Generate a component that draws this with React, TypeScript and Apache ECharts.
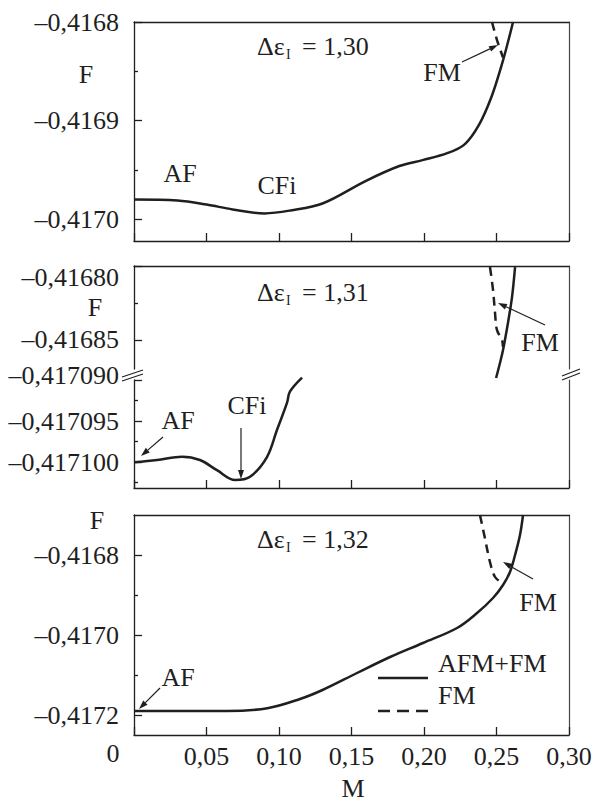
import React, { useEffect, useRef } from "react";
import * as echarts from "echarts";

// ---------- data ----------
const xMin = 0;
const xMax = 0.3;
const xStep = 0.05;

// Panel 1: Δε_I = 1,30
const p1SolidM = [0, 0.03, 0.05, 0.068, 0.09, 0.108, 0.13, 0.16, 0.183, 0.199, 0.216, 0.228, 0.238, 0.2465, 0.2535, 0.2585, 0.2614];
const p1SolidF = [-0.41698, -0.416981, -0.416985, -0.41699, -0.416994, -0.416991, -0.416984, -0.416961, -0.416946, -0.41694, -0.416933, -0.416924, -0.416904, -0.416876, -0.416844, -0.416817, -0.4168];
const p1DashM = [0.2469, 0.2503, 0.2545];
const p1DashF = [-0.4168, -0.416818, -0.416836];
const p1Major = [-0.4168, -0.4169, -0.417];
const p1Minor = [-0.41685, -0.41695];

// Panel 2 (upper part): Δε_I = 1,31
const p2uSolidM = [0.2497, 0.2524, 0.2545, 0.2579, 0.2607, 0.2628];
const p2uSolidF = [-0.4168757, -0.4168655, -0.4168568, -0.4168385, -0.416821, -0.4168007];
const p2uDashM = [0.2455, 0.2476, 0.249, 0.2503, 0.2538, 0.2545];
const p2uDashF = [-0.4168007, -0.4168162, -0.4168318, -0.4168432, -0.41685, -0.4168547];
const p2uMajor = [-0.4168, -0.41685];
const p2uMinor = [-0.416825];

// Panel 2 (lower part)
const p2lSolidM = [0, 0.0159, 0.0331, 0.0455, 0.0572, 0.0697, 0.08, 0.0917, 0.0986, 0.1055, 0.1076, 0.1159];
const p2lSolidF = [-0.41710004, -0.41709976, -0.41709935, -0.41709976, -0.417101, -0.4171022, -0.4171018, -0.4170994, -0.4170961, -0.4170928, -0.4170914, -0.4170897];
const p2lMajor = [-0.41709, -0.417095, -0.4171];
const p2lMinor = [-0.4170925, -0.4170975, -0.4171025];

// Panel 3: Δε_I = 1,32
const p3SolidM = [0, 0.03, 0.064, 0.092, 0.1145, 0.13, 0.1538, 0.1766, 0.1993, 0.2228, 0.2366, 0.2476, 0.2545, 0.2593, 0.2628, 0.2662, 0.2683];
const p3SolidF = [-0.41719, -0.41719, -0.41719, -0.417183, -0.41716, -0.4171375, -0.417095, -0.417055, -0.41702, -0.4169825, -0.416945, -0.4169075, -0.416875, -0.4168425, -0.4168, -0.41675, -0.4167];
const p3DashM = [0.2386, 0.242, 0.2455, 0.249, 0.2538];
const p3DashF = [-0.4167, -0.4167575, -0.4168175, -0.416855, -0.41687];
const p3Major = [-0.4168, -0.417, -0.4172];
const p3Minor = [-0.4169, -0.4171];

// ---------- layout ----------
const FONT = "'Liberation Serif', 'Times New Roman', serif";
const FS = 26;
const INK = "#1f1f1f";
const LEFT = 134;
const WIDTH = 435;

const grids = [
  { top: 22, height: 219, min: -0.417022, max: -0.4168, major: p1Major, minor: p1Minor, dec: 4, bottomTicks: true, topLine: true, labels: false, shift: {} as Record<string, number> },
  { top: 266, height: 103, min: -0.4168696, max: -0.4168, major: p2uMajor, minor: p2uMinor, dec: 5, bottomTicks: false, topLine: true, labels: false, shift: { "-0.41680": 11 } as Record<string, number> },
  { top: 380, height: 108, min: -0.41710317, max: -0.41709, major: p2lMajor, minor: p2lMinor, dec: 6, bottomTicks: true, topLine: false, labels: false, shift: { "-0.417090": -5 } as Record<string, number> },
  { top: 515, height: 220, min: -0.41725, max: -0.4167, major: p3Major, minor: p3Minor, dec: 4, bottomTicks: true, topLine: true, labels: true, shift: {} as Record<string, number> },
];

const fmtY = (v: number, d: number) => v.toFixed(d).replace("-", "\u2013").replace(".", ",");
const zip = (a: number[], b: number[]) => a.map((v, i) => [v, b[i]]);

function arrow(x1: number, y1: number, x2: number, y2: number) {
  const dx = x2 - x1, dy = y2 - y1;
  const L = Math.hypot(dx, dy);
  const ux = dx / L, uy = dy / L;
  const h = 9, w = 3;
  const bx = x2 - ux * h, by = y2 - uy * h;
  return [
    { type: "line", shape: { x1, y1, x2: bx, y2: by }, style: { stroke: INK, lineWidth: 1.2 } },
    { type: "polygon", shape: { points: [[x2, y2], [bx - uy * w, by + ux * w], [bx + uy * w, by - ux * w]] }, style: { fill: INK } },
  ];
}

function txt(text: string, x: number, y: number, align = "center", size = FS) {
  return { type: "text", x, y, style: { text, fontFamily: FONT, fontSize: size, fill: INK, align, verticalAlign: "middle" } };
}

function delta(val: string, y: number) {
  return [txt("\u0394\u03b5", 257, y, "left"), txt("I", 286, y + 8, "left", 14), txt("= " + val, 302, y, "left")];
}

export default function App() {
  const ref = useRef<HTMLDivElement>(null);
  useEffect(() => {
    if (!ref.current) return;
    const chart = echarts.init(ref.current, null, { renderer: "svg" });

    const gridOpt: any[] = [];
    const xAxes: any[] = [];
    const yAxes: any[] = [];
    const mainX: number[] = [];
    const mainY: number[] = [];
    const richBase = { fontFamily: FONT, fontSize: FS, color: INK };

    grids.forEach((g, gi) => {
      gridOpt.push({ left: LEFT, top: g.top, width: WIDTH, height: g.height, containLabel: false });
      mainX.push(xAxes.length);
      xAxes.push({
        type: "value", gridIndex: gi, min: xMin, max: xMax, interval: xStep, position: "bottom",
        axisLine: { show: g.bottomTicks, lineStyle: { color: INK, width: 1.3 } },
        axisTick: { show: g.bottomTicks, inside: true, length: 8, lineStyle: { color: INK, width: 1.3 } },
        axisLabel: {
          show: g.labels, margin: 8, fontFamily: FONT, fontSize: FS, color: INK,
          formatter: (v: number) => (v === 0 ? "" : v.toFixed(2).replace(".", ",")),
        },
        splitLine: { show: false },
      });
      if (g.topLine) {
        xAxes.push({
          type: "value", gridIndex: gi, min: xMin, max: xMax, position: "top",
          axisLine: { show: true, lineStyle: { color: INK, width: 1.3 } },
          axisTick: { show: false }, axisLabel: { show: false }, splitLine: { show: false },
        });
      }
      mainY.push(yAxes.length);
      yAxes.push({
        type: "value", gridIndex: gi, min: g.min, max: g.max, position: "left",
        axisLine: { show: true, lineStyle: { color: INK, width: 1.3 } },
        axisTick: { show: true, inside: true, length: 8, customValues: g.major, lineStyle: { color: INK, width: 1.3 } },
        axisLabel: {
          show: true, customValues: g.major, margin: 15, fontFamily: FONT, fontSize: FS, color: INK,
          formatter: (v: number) => {
            const key = v.toFixed(g.dec);
            const s = fmtY(v, g.dec);
            const sh = g.shift[key];
            if (sh === undefined) return s;
            return sh > 0 ? "{dn|" + s + "}" : "{up|" + s + "}";
          },
          rich: {
            dn: { ...richBase, padding: [22, 0, 0, 0] },
            up: { ...richBase, padding: [0, 0, 10, 0] },
          },
        },
        splitLine: { show: false },
      });
      yAxes.push({
        type: "value", gridIndex: gi, min: g.min, max: g.max, position: "left",
        axisLine: { show: false },
        axisTick: { show: true, inside: true, length: 4, customValues: g.minor, lineStyle: { color: INK, width: 1.3 } },
        axisLabel: { show: false }, splitLine: { show: false },
      });
      yAxes.push({
        type: "value", gridIndex: gi, min: g.min, max: g.max, position: "right",
        axisLine: { show: true, lineStyle: { color: "#444", width: 1.2 } },
        axisTick: { show: false }, axisLabel: { show: false }, splitLine: { show: false },
      });
    });

    const line = (gi: number, data: number[][], dashed: boolean) => ({
      type: "line", xAxisIndex: mainX[gi], yAxisIndex: mainY[gi], data, smooth: 0.35,
      showSymbol: false, clip: false, silent: true,
      lineStyle: { color: INK, width: 2.5, type: dashed ? [9, 6] : "solid" },
    });

    const series = [
      line(0, zip(p1SolidM, p1SolidF), false),
      line(0, zip(p1DashM, p1DashF), true),
      line(1, zip(p2uSolidM, p2uSolidF), false),
      line(1, zip(p2uDashM, p2uDashF), true),
      line(2, zip(p2lSolidM, p2lSolidF), false),
      line(3, zip(p3SolidM, p3SolidF), false),
      line(3, zip(p3DashM, p3DashF), true),
    ];

    const breakLine = (x1: number, y1: number, x2: number, y2: number) => ({
      type: "line", shape: { x1, y1, x2, y2 }, style: { stroke: INK, lineWidth: 1.2 },
    });

    const graphic: any[] = [
      // panel 1
      txt("F", 86, 74), txt("AF", 180, 173), txt("CFi", 277, 185), txt("FM", 442, 72),
      ...delta("1,30", 46),
      ...arrow(462, 62, 498, 45),
      // panel 2
      txt("F", 95, 307), txt("AF", 178, 420), txt("CFi", 247, 405), txt("FM", 540, 342),
      ...delta("1,31", 292),
      ...arrow(545, 325, 498, 303),
      ...arrow(163, 437, 141, 456),
      ...arrow(241, 428, 241, 479),
      breakLine(122, 377, 143, 370), breakLine(122, 381, 143, 374),
      breakLine(562, 376, 580, 369), breakLine(562, 380, 580, 373),
      // panel 3
      txt("F", 97, 520), txt("AF", 178, 677), txt("FM", 538, 602),
      ...delta("1,32", 539),
      ...arrow(160, 688, 139, 709),
      ...arrow(533, 579, 503, 562),
      txt("AFM+FM", 438, 663, "left"), txt("FM", 438, 695, "left"),
      { type: "line", shape: { x1: 378, y1: 678, x2: 428, y2: 678 }, style: { stroke: INK, lineWidth: 2.5 } },
      { type: "line", shape: { x1: 378, y1: 711, x2: 428, y2: 711 }, style: { stroke: INK, lineWidth: 2.5, lineDash: [12, 7] } },
      txt("0", 113, 753), txt("M", 353, 788),
    ];

    chart.setOption({
      animation: false,
      backgroundColor: "#ffffff",
      grid: gridOpt,
      xAxis: xAxes,
      yAxis: yAxes,
      series,
      graphic,
    });
    return () => chart.dispose();
  }, []);

  return <div ref={ref} style={{ position: "fixed", left: 0, top: 0, width: 595, height: 807 }} />;
}
